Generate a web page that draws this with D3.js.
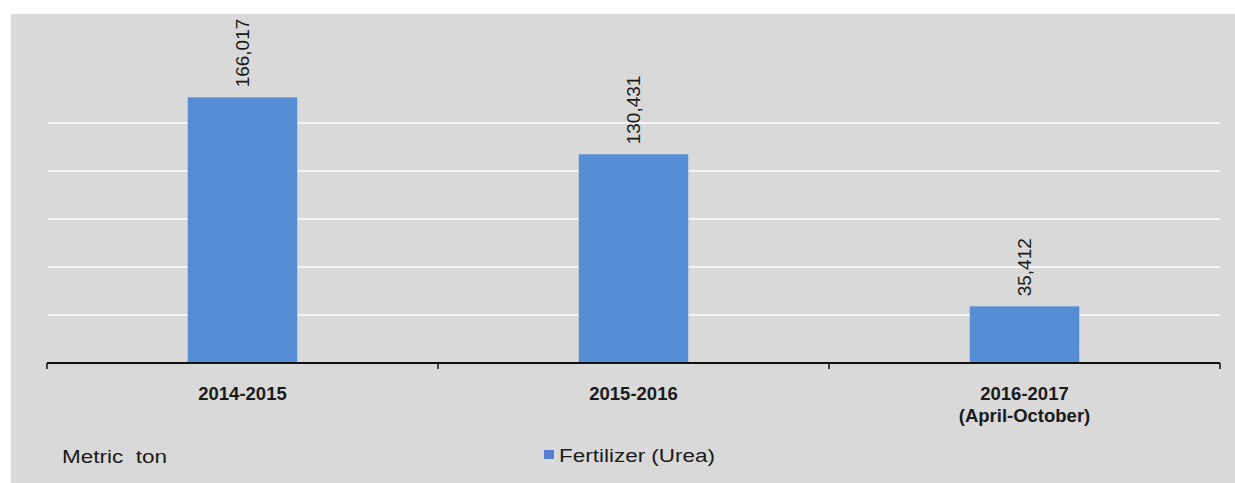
<!DOCTYPE html>
<html>
<head>
<meta charset="utf-8">
<script src="https://cdn.jsdelivr.net/npm/d3@7"></script>
<style>
  html, body { margin: 0; padding: 0; background: #ffffff; }
  svg { display: block; }
  text { font-family: "Liberation Sans", Arial, Helvetica, sans-serif; fill: #1a1a1a; }
</style>
</head>
<body>
<script>
// ---- data ----
const categories = ["2014-2015", "2015-2016", "2016-2017\n(April-October)"];
const values = [166017, 130431, 35412];
const gridTicks = [30000, 60000, 90000, 120000, 150000];
const seriesName = "Fertilizer (Urea)";
const unitLabel = "Metric  ton";

const W = 1235, H = 483;
const svg = d3.select("body").append("svg").attr("width", W).attr("height", H);

// background panel
svg.append("rect").attr("x", 11).attr("y", 14).attr("width", W - 11).attr("height", H - 14).attr("fill", "#d9d9d9");

const x = d3.scaleBand().domain(categories).range([47, 1220]).paddingInner(0.72).paddingOuter(0.36);
const y = d3.scaleLinear().domain([0, 180000]).range([363, 75]);

// gridlines
svg.append("g").selectAll("line").data(gridTicks).join("line")
  .attr("x1", 48).attr("x2", 1220)
  .attr("y1", d => y(d)).attr("y2", d => y(d))
  .attr("stroke", "#f4f4f4").attr("stroke-width", 2);

// bars
svg.append("g").selectAll("rect").data(values).join("rect")
  .attr("x", (d, i) => x(categories[i]))
  .attr("width", x.bandwidth())
  .attr("y", d => y(d))
  .attr("height", d => y(0) - y(d))
  .attr("fill", "#558ed5");

// axis line and boundary ticks
const step = x.step();
const r0 = x.range()[0];
svg.append("line").attr("x1", r0).attr("x2", x.range()[1]).attr("y1", y(0)).attr("y2", y(0))
  .attr("stroke", "#111").attr("stroke-width", 2);
const bounds = d3.range(categories.length + 1).map(i => r0 + i * step);
svg.append("g").selectAll("line").data(bounds).join("line")
  .attr("x1", d => d).attr("x2", d => d)
  .attr("y1", y(0)).attr("y2", y(0) + 6)
  .attr("stroke", "#111").attr("stroke-width", 1.5);

// value labels (rotated)
svg.append("g").selectAll("text").data(values).join("text")
  .attr("transform", (d, i) => `translate(${x(categories[i]) + x.bandwidth() / 2},${y(d) - 10}) rotate(-90)`)
  .attr("dy", "0.36em")
  .attr("text-anchor", "start")
  .style("font-size", "19px")
  .text(d => d3.format(",")(d));

// category labels
const catG = svg.append("g").selectAll("text").data(categories).join("text")
  .attr("x", d => x(d) + x.bandwidth() / 2)
  .attr("y", 400)
  .attr("text-anchor", "middle")
  .style("font-size", "18.5px")
  .style("font-weight", "bold");
catG.each(function(d) {
  const t = d3.select(this);
  const cx = x(d) + x.bandwidth() / 2;
  d.split("\n").forEach((line, k) => {
    t.append("tspan").attr("x", cx).attr("dy", k === 0 ? 0 : 22).text(line);
  });
});

// unit label
svg.append("text").attr("x", 62).attr("y", 463)
  .style("font-size", "18px").style("white-space", "pre")
  .attr("xml:space", "preserve")
  .attr("textLength", 105).attr("lengthAdjust", "spacingAndGlyphs")
  .text(unitLabel);

// legend
svg.append("rect").attr("x", 544).attr("y", 450).attr("width", 10).attr("height", 9).attr("fill", "#5b7fd0");
svg.append("text").attr("x", 559).attr("y", 462)
  .style("font-size", "18px")
  .attr("textLength", 156).attr("lengthAdjust", "spacingAndGlyphs")
  .text(seriesName);
</script>
</body>
</html>
